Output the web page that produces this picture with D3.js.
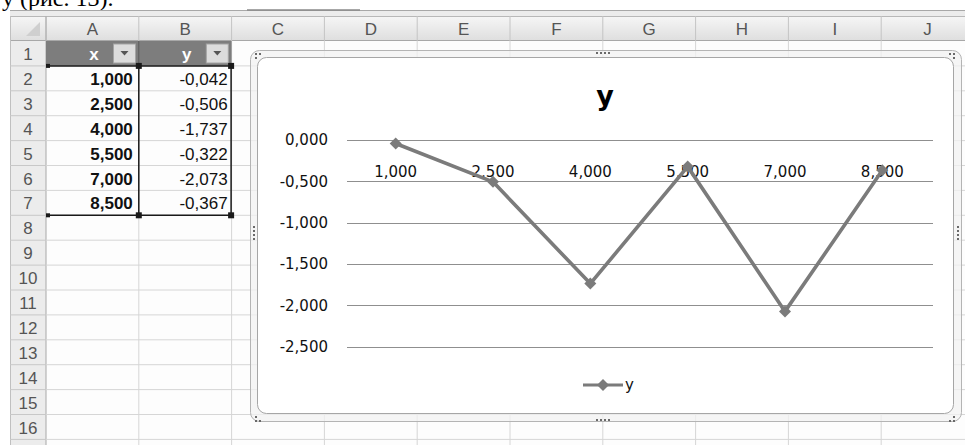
<!DOCTYPE html>
<html><head><meta charset="utf-8">
<script src="https://cdn.jsdelivr.net/npm/d3@7"></script>
<style>html,body{margin:0;padding:0;background:#fff;overflow:hidden}svg{display:block}</style>
</head><body>
<svg id="c" width="965" height="445"></svg>
<script>
// ---- data ----
const xValues = [1.0, 2.5, 4.0, 5.5, 7.0, 8.5];
const yValues = [-0.042, -0.506, -1.737, -0.322, -2.073, -0.367];
const yTicks = [0, -0.5, -1, -1.5, -2, -2.5];
const columnLetters = ["A","B","C","D","E","F","G","H","I","J"];
const rowNumbers = d3.range(1, 17);
const tableHeaders = ["x", "y"];
const seriesName = "y";
const chartTitle = "y";
const topText = "у (рис. 13).";

const loc = d3.formatLocale({decimal: ",", thousands: " ", grouping: [3], currency: ["", ""], minus: "-"});
const f3 = loc.format(".3f");
const categories = xValues.map(f3);

const svg = d3.select("#c");

// ---- sheet geometry ----
const colX = d3.scaleLinear().domain([0, 1]).range([46, 46 + 92.8]);   // column index -> left x
const rowY = d3.scaleLinear().domain([1, 2]).range([41, 41 + 24.9]);   // row number -> top y

// top text (cut off at the top edge, as in the reference)
svg.append("text").attr("x", 2).attr("y", 6).attr("font-family", "Liberation Serif")
  .attr("font-size", 24).attr("fill", "#000").text(topText);

// sheet top lines / band
svg.append("rect").attr("x", 10).attr("y", 11).attr("width", 955).attr("height", 5).attr("fill", "#ececec");
svg.append("line").attr("x1", 10).attr("x2", 965).attr("y1", 10.5).attr("y2", 10.5).attr("stroke", "#a8a8a8");
svg.append("line").attr("x1", 247).attr("x2", 360).attr("y1", 10).attr("y2", 10).attr("stroke", "#8a8a8a").attr("stroke-width", 1.5);

// cell area background
svg.append("rect").attr("x", 46).attr("y", 41).attr("width", 919).attr("height", 404).attr("fill", "#fdfdfd");

// header gradient
const defs = svg.append("defs");
const g1 = defs.append("linearGradient").attr("id", "hg").attr("x1", 0).attr("y1", 0).attr("x2", 0).attr("y2", 1);
g1.append("stop").attr("offset", 0).attr("stop-color", "#f6f6f6");
g1.append("stop").attr("offset", 1).attr("stop-color", "#dedede");

// column headers
svg.append("rect").attr("x", 10).attr("y", 16).attr("width", 955).attr("height", 25).attr("fill", "url(#hg)");
svg.append("line").attr("x1", 10).attr("x2", 965).attr("y1", 16.5).attr("y2", 16.5).attr("stroke", "#b8b8b8");
svg.append("line").attr("x1", 10).attr("x2", 965).attr("y1", 40.5).attr("y2", 40.5).attr("stroke", "#a8a8a8");
columnLetters.forEach((L, i) => {
  svg.append("line").attr("x1", colX(i)).attr("x2", colX(i)).attr("y1", 16).attr("y2", 41).attr("stroke", "#c4c4c4");
  svg.append("text").attr("x", colX(i) + 46.4).attr("y", 35).attr("text-anchor", "middle")
    .attr("font-family", "Liberation Sans").attr("font-size", 17).attr("fill", "#555").text(L);
});
// corner triangle
svg.append("path").attr("d", "M40,22 L40,36 L26,36 Z").attr("fill", "#cfcfcf");

// row headers
svg.append("rect").attr("x", 10).attr("y", 41).attr("width", 36).attr("height", 404).attr("fill", "#ececec");
svg.append("line").attr("x1", 10.5).attr("x2", 10.5).attr("y1", 16).attr("y2", 445).attr("stroke", "#c0c0c0");
svg.append("line").attr("x1", 46).attr("x2", 46).attr("y1", 16).attr("y2", 445).attr("stroke", "#a8a8a8");
rowNumbers.forEach(r => {
  const y0 = rowY(r), y1 = rowY(r + 1);
  svg.append("line").attr("x1", 10).attr("x2", 46).attr("y1", y1).attr("y2", y1).attr("stroke", "#c8c8c8");
  svg.append("text").attr("x", 28).attr("y", y0 + 19).attr("text-anchor", "middle")
    .attr("font-family", "Liberation Sans").attr("font-size", 17).attr("fill", "#555").text(r);
});

// cell gridlines
rowNumbers.forEach(r => {
  svg.append("line").attr("x1", 46).attr("x2", 965).attr("y1", rowY(r + 1)).attr("y2", rowY(r + 1)).attr("stroke", "#d6d6d6");
});
columnLetters.forEach((L, i) => {
  svg.append("line").attr("x1", colX(i + 1)).attr("x2", colX(i + 1)).attr("y1", 41).attr("y2", 445).attr("stroke", "#d6d6d6");
});

// table header row
svg.append("rect").attr("x", colX(0)).attr("y", rowY(1)).attr("width", colX(2) - colX(0)).attr("height", 24.9).attr("fill", "#7d7d7d");
tableHeaders.forEach((h, i) => {
  svg.append("text").attr("x", colX(i) + 48).attr("y", rowY(1) + 19).attr("text-anchor", "middle")
    .attr("font-family", "Liberation Sans").attr("font-weight", "bold").attr("font-size", 17).attr("fill", "#fff").text(h);
  const bx = colX(i) + 67.5;
  svg.append("rect").attr("x", bx).attr("y", rowY(1) + 3).attr("width", 22).attr("height", 19)
    .attr("fill", "#dcdcdc").attr("stroke", "#a4a4a4");
  svg.append("path").attr("d", `M${bx + 7},${rowY(1) + 10} L${bx + 15},${rowY(1) + 10} L${bx + 11},${rowY(1) + 14.5} Z`).attr("fill", "#555");
});
svg.append("line").attr("x1", colX(1)).attr("x2", colX(1)).attr("y1", rowY(1)).attr("y2", rowY(2)).attr("stroke", "#5a5a5a");

// table data
xValues.forEach((v, i) => {
  const y0 = rowY(i + 2);
  svg.append("text").attr("x", colX(1) - 6).attr("y", y0 + 19).attr("text-anchor", "end")
    .attr("font-family", "Liberation Sans").attr("font-weight", "bold").attr("font-size", 17).attr("fill", "#111").text(f3(v));
  svg.append("text").attr("x", colX(2) - 4).attr("y", y0 + 19).attr("text-anchor", "end")
    .attr("font-family", "Liberation Sans").attr("font-size", 17).attr("fill", "#111").text(f3(yValues[i]));
});
// selection border
const tTop = rowY(2), tBot = rowY(xValues.length + 2);
const selC = "#1a1a1a";
svg.append("line").attr("x1", 48).attr("x2", colX(2)).attr("y1", tTop).attr("y2", tTop).attr("stroke", selC).attr("stroke-width", 1.5);
svg.append("line").attr("x1", 48).attr("x2", colX(2)).attr("y1", tBot).attr("y2", tBot).attr("stroke", selC).attr("stroke-width", 1.5);
svg.append("line").attr("x1", colX(1)).attr("x2", colX(1)).attr("y1", tTop).attr("y2", tBot).attr("stroke", selC).attr("stroke-width", 1.5);
svg.append("line").attr("x1", colX(2) - 0.5).attr("x2", colX(2) - 0.5).attr("y1", tTop).attr("y2", tBot).attr("stroke", selC).attr("stroke-width", 1.5);
[[48, tTop, 4], [colX(1), tTop, 6], [colX(2) - 0.5, tTop, 6], [48, tBot, 4], [colX(1), tBot, 6], [colX(2) - 0.5, tBot, 6]].forEach(([x, y, s]) => {
  svg.append("rect").attr("x", x - s / 2).attr("y", y - s / 2).attr("width", s).attr("height", s).attr("fill", selC);
});

// ---- chart frame ----
svg.append("rect").attr("x", 250.5).attr("y", 50.5).attr("width", 711).attr("height", 371).attr("rx", 9)
  .attr("fill", "#f2f2f2").attr("fill-opacity", 0.75).attr("stroke", "#b4b4b4");
svg.append("rect").attr("x", 257.5).attr("y", 57.5).attr("width", 696).attr("height", 356).attr("rx", 9)
  .attr("fill", "#fff").attr("stroke", "#a6a6a6");
// selection handle dots
const dot = (x, y) => svg.append("rect").attr("x", x).attr("y", y).attr("width", 2).attr("height", 2).attr("fill", "#6a6a6a");
[[255, 53], [259, 53], [255, 57]].forEach(d => dot(...d));
[[949, 53], [953, 53], [953, 57]].forEach(d => dot(...d));
[[255, 416], [255, 420], [259, 420]].forEach(d => dot(...d));
[[953, 416], [949, 420], [953, 420]].forEach(d => dot(...d));
[596, 600, 604, 608].forEach(x => { dot(x, 52); dot(x, 419); });
[226, 230, 234, 238].forEach(y => { dot(253, y); dot(957, y); });

// ---- plot ----
const x = d3.scaleBand().domain(categories).range([347, 931]).padding(0);
const y = d3.scaleLinear().domain([-2.5, 0]).range([346.7, 140]);

svg.append("text").attr("x", 605).attr("y", 105).attr("text-anchor", "middle")
  .attr("font-family", "DejaVu Sans").attr("font-weight", "bold").attr("font-size", 27).attr("fill", "#000").text(chartTitle);

const yAxis = svg.append("g").attr("transform", "translate(347,0)")
  .call(d3.axisLeft(y).tickValues(yTicks).tickSize(-586).tickPadding(19).tickFormat(f3));
yAxis.select(".domain").remove();
yAxis.selectAll(".tick line").attr("stroke", "#8f8f8f").attr("shape-rendering", "crispEdges");
yAxis.selectAll("text").attr("font-family", "DejaVu Sans").attr("font-size", 15).attr("fill", "#111");

const xAxis = svg.append("g").attr("transform", `translate(0,${y(0)})`)
  .call(d3.axisBottom(x).tickSize(0).tickPadding(26.6));
xAxis.select(".domain").remove();
xAxis.selectAll("text").attr("font-family", "DejaVu Sans").attr("font-size", 15).attr("fill", "#111");

const pts = categories.map((c, i) => [x(c) + x.bandwidth() / 2, y(yValues[i])]);
svg.append("path").attr("d", d3.line()(pts)).attr("fill", "none")
  .attr("stroke", "#7b7b7b").attr("stroke-width", 3.6).attr("stroke-linejoin", "round");
const diamond = d3.symbol(d3.symbolSquare, 72);
svg.selectAll(".mk").data(pts).join("path").attr("class", "mk")
  .attr("transform", d => `translate(${d[0]},${d[1]}) rotate(45)`).attr("d", diamond).attr("fill", "#7b7b7b");

// legend
svg.append("line").attr("x1", 583).attr("x2", 623).attr("y1", 385).attr("y2", 385).attr("stroke", "#7b7b7b").attr("stroke-width", 3.2);
svg.append("path").attr("transform", "translate(603,385) rotate(45)").attr("d", diamond).attr("fill", "#7b7b7b");
svg.append("text").attr("x", 625).attr("y", 390).attr("font-family", "DejaVu Sans").attr("font-size", 15).attr("fill", "#111").text(seriesName);
</script>
</body></html>
